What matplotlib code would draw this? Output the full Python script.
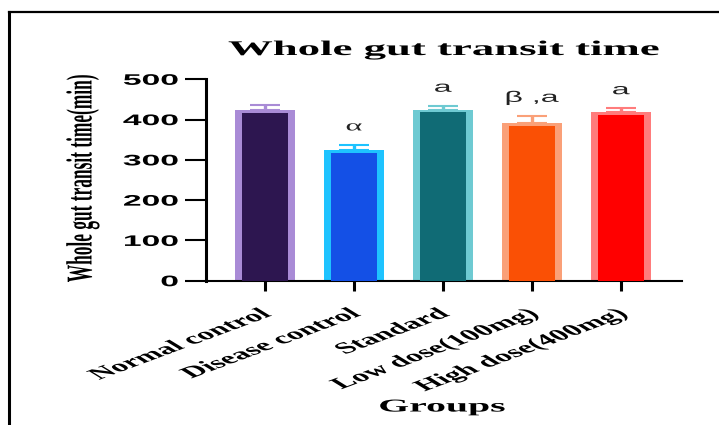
import matplotlib
matplotlib.use('Agg')
import matplotlib.pyplot as plt
from matplotlib import patheffects
from matplotlib.lines import Line2D
from matplotlib.transforms import Affine2D

# Messwerte (Mittelwert und SEM, in min)
groups = ['Normal control', 'Disease control', 'Standard', 'Low dose(100mg)', 'High dose(400mg)']
means = [423, 324, 424, 391, 418]
sems = [12, 14, 10, 18, 10]
marks = ['', '\u03b1', 'a', '\u03b2 ,a', 'a']
yticks = [0, 100, 200, 300, 400, 500]

fill_colors = ['#2d1650', '#1450e6', '#106b75', '#fa5005', '#ff0000']
rim_colors = ['#a98bd6', '#1ec3ff', '#6ecad2', '#faa078', '#ff7c7c']


class Stretch(patheffects.AbstractPathEffect):
    '''Zieht die Schrift horizontal in die Breite'''

    def __init__(self, sx, anchor='center', dx=0):
        super().__init__()
        self.sx = sx
        self.anchor = anchor
        self.dx = dx

    def draw_path(self, renderer, gc, tpath, affine, rgbFace=None):
        bb = tpath.get_extents(affine)
        x0 = {'left': bb.x0, 'center': (bb.x0 + bb.x1) / 2, 'right': bb.x1}[self.anchor]
        st = affine + Affine2D().translate(-x0, 0).scale(self.sx, 1).translate(x0 + self.dx, 0)
        renderer.draw_path(gc, tpath, st, rgbFace)


def plot():
    '''Balkendiagramm der Transitzeit'''
    W, H = 719, 425
    fig = plt.figure(figsize=(W / 100, H / 100), dpi=100)
    ax = fig.add_axes([206 / W, 1 - 280.7 / H, 476 / W, 201.4 / H])

    # Rahmen oben und links
    fig.add_artist(Line2D([9 / W, 1], [1 - 12 / H, 1 - 12 / H], color='black', lw=1.6,
                          transform=fig.transFigure))
    fig.add_artist(Line2D([9 / W, 9 / W], [0, 1 - 12 / H], color='black', lw=2.2,
                          transform=fig.transFigure))

    x = range(len(groups))
    rim = 6  # obere Randstaerke in min
    ax.bar(x, means, width=0.674, color=rim_colors, zorder=2)
    ax.bar(x, [m - rim for m in means], width=0.517, color=fill_colors, zorder=3)
    for i in x:
        ax.errorbar(i, means[i], yerr=[[0], [sems[i]]], fmt='none', ecolor=rim_colors[i],
                    elinewidth=2.4, capsize=10.8, capthick=1.5, zorder=1)
        if marks[i]:
            fam = 'Liberation Serif' if i == 1 else 'Liberation Sans'
            ax.annotate(marks[i], xy=(i, means[i] + sems[i]), xytext=(0, 8),
                        textcoords='offset points', ha='center', va='bottom',
                        fontsize=11, family=fam, color='#222222',
                        path_effects=[Stretch(2.1)])

    ax.set_xlim(-0.663, 4.685)
    ax.set_ylim(0, 500)
    ax.set_yticks(yticks)
    ax.set_xticks(list(x))
    ax.set_xticklabels(groups, rotation=38, ha='right', rotation_mode='default',
                       family='Liberation Serif', fontweight='bold', fontsize=11.5)
    ax.set_yticklabels([str(t) for t in yticks], family='Liberation Sans',
                       fontweight='bold', fontsize=11)
    for lab in ax.get_yticklabels():
        lab.set_path_effects([Stretch(2.2, 'right')])
    for lab in ax.get_xticklabels():
        lab.set_path_effects([Stretch(2.1, 'right', dx=10)])

    ax.spines['top'].set_visible(False)
    ax.spines['right'].set_visible(False)
    ax.spines['left'].set_linewidth(2.2)
    ax.spines['bottom'].set_linewidth(1.5)
    ax.tick_params(axis='y', length=15, width=1.5, pad=5)
    ax.tick_params(axis='x', length=7, width=2.2, pad=11)

    # Beschriftung
    fig.text(444 / W, 1 - 50 / H, 'Whole gut transit time', ha='center', va='center',
             family='Liberation Serif', fontweight='bold', fontsize=15,
             path_effects=[Stretch(2.15)])
    fig.text(83 / W, 1 - 178 / H, 'Whole gut transit time(min)', rotation=90,
             ha='center', va='center', family='Liberation Serif', fontweight='bold',
             fontsize=12.5, path_effects=[Stretch(2.1)])
    fig.text(442 / W, 1 - 407 / H, 'Groups', ha='center', va='center',
             family='Liberation Serif', fontweight='bold', fontsize=13,
             path_effects=[Stretch(2.2)])

    fig.savefig('out.png', dpi=100)


def main():
    '''Main Funktion '''
    plot()


if __name__ == "__main__":
    main()
